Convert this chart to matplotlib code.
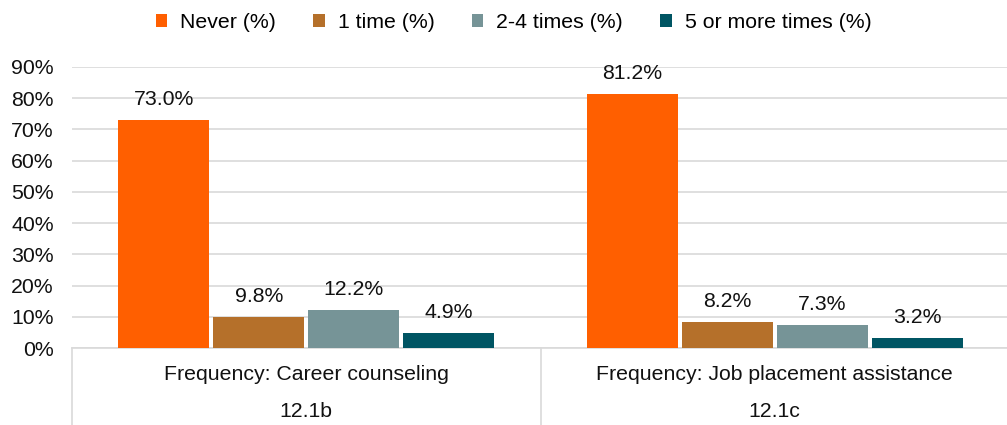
import matplotlib.pyplot as plt
import numpy as np

plt.rcParams['font.family'] = ['Liberation Sans', 'DejaVu Sans']

groups = ['Frequency: Career counseling', 'Frequency: Job placement assistance']
codes = ['12.1b', '12.1c']
series = ['Never (%)', '1 time (%)', '2-4 times (%)', '5 or more times (%)']
never = [73.0, 81.2]
one_time = [9.8, 8.2]
two_four = [12.2, 7.3]
five_plus = [4.9, 3.2]
colors = ['#FF5F00', '#B5702A', '#769497', '#005563']

values = [never, one_time, two_four, five_plus]
fs = 15.3

fig = plt.figure(figsize=(10.07, 4.25), dpi=100)
ax = fig.add_axes([72 / 1007, 77 / 425, 1 - 72 / 1007 + 0.002, (348 - 67) / 425])

x = np.arange(len(groups))
step = 95 / 468
width = 91 / 468
for i, (name, vals, col) in enumerate(zip(series, values, colors)):
    pos = x + (i - 1.5) * step
    ax.bar(pos, vals, width, color=col, label=name, zorder=3)
    for p, v in zip(pos, vals):
        ax.annotate(f'{v:.1f}%', xy=(p, v), xytext=(0, 8), textcoords='offset points',
                    ha='center', va='bottom', fontsize=fs, color='#111111')

ax.set_xlim(-0.5, 1.5)
ax.set_ylim(0, 90)
ax.set_yticks(np.arange(0, 91, 10))
ax.set_yticklabels([f'{t}%' for t in range(0, 91, 10)], fontsize=fs, color='#111111')
ax.yaxis.grid(True, color='#D9D9D9', linewidth=1.2, zorder=0)
ax.tick_params(axis='y', length=0, pad=13)
ax.set_xticks([])
for s in ['top', 'right', 'left']:
    ax.spines[s].set_visible(False)
ax.spines['bottom'].set_color('#D9D9D9')
ax.spines['bottom'].set_linewidth(1.2)

# two-level category labels with separators
for xv in [-0.5, 0.5, 1.5]:
    ax.plot([xv, xv], [0, -0.3], transform=ax.get_xaxis_transform(), color='#D9D9D9',
            linewidth=1.2, clip_on=False)
for xi, g, c in zip(x, groups, codes):
    ax.text(xi, -0.095, g, transform=ax.get_xaxis_transform(), ha='center', va='center',
            fontsize=fs, color='#111111')
    ax.text(xi, -0.225, c, transform=ax.get_xaxis_transform(), ha='center', va='center',
            fontsize=fs, color='#111111')

fig.legend(loc='upper center', bbox_to_anchor=(0.51, 1.015), ncol=4, frameon=False,
           fontsize=fs, handlelength=0.55, handleheight=0.55, handletextpad=0.6,
           columnspacing=1.75)

fig.savefig('out.png', dpi=100)
